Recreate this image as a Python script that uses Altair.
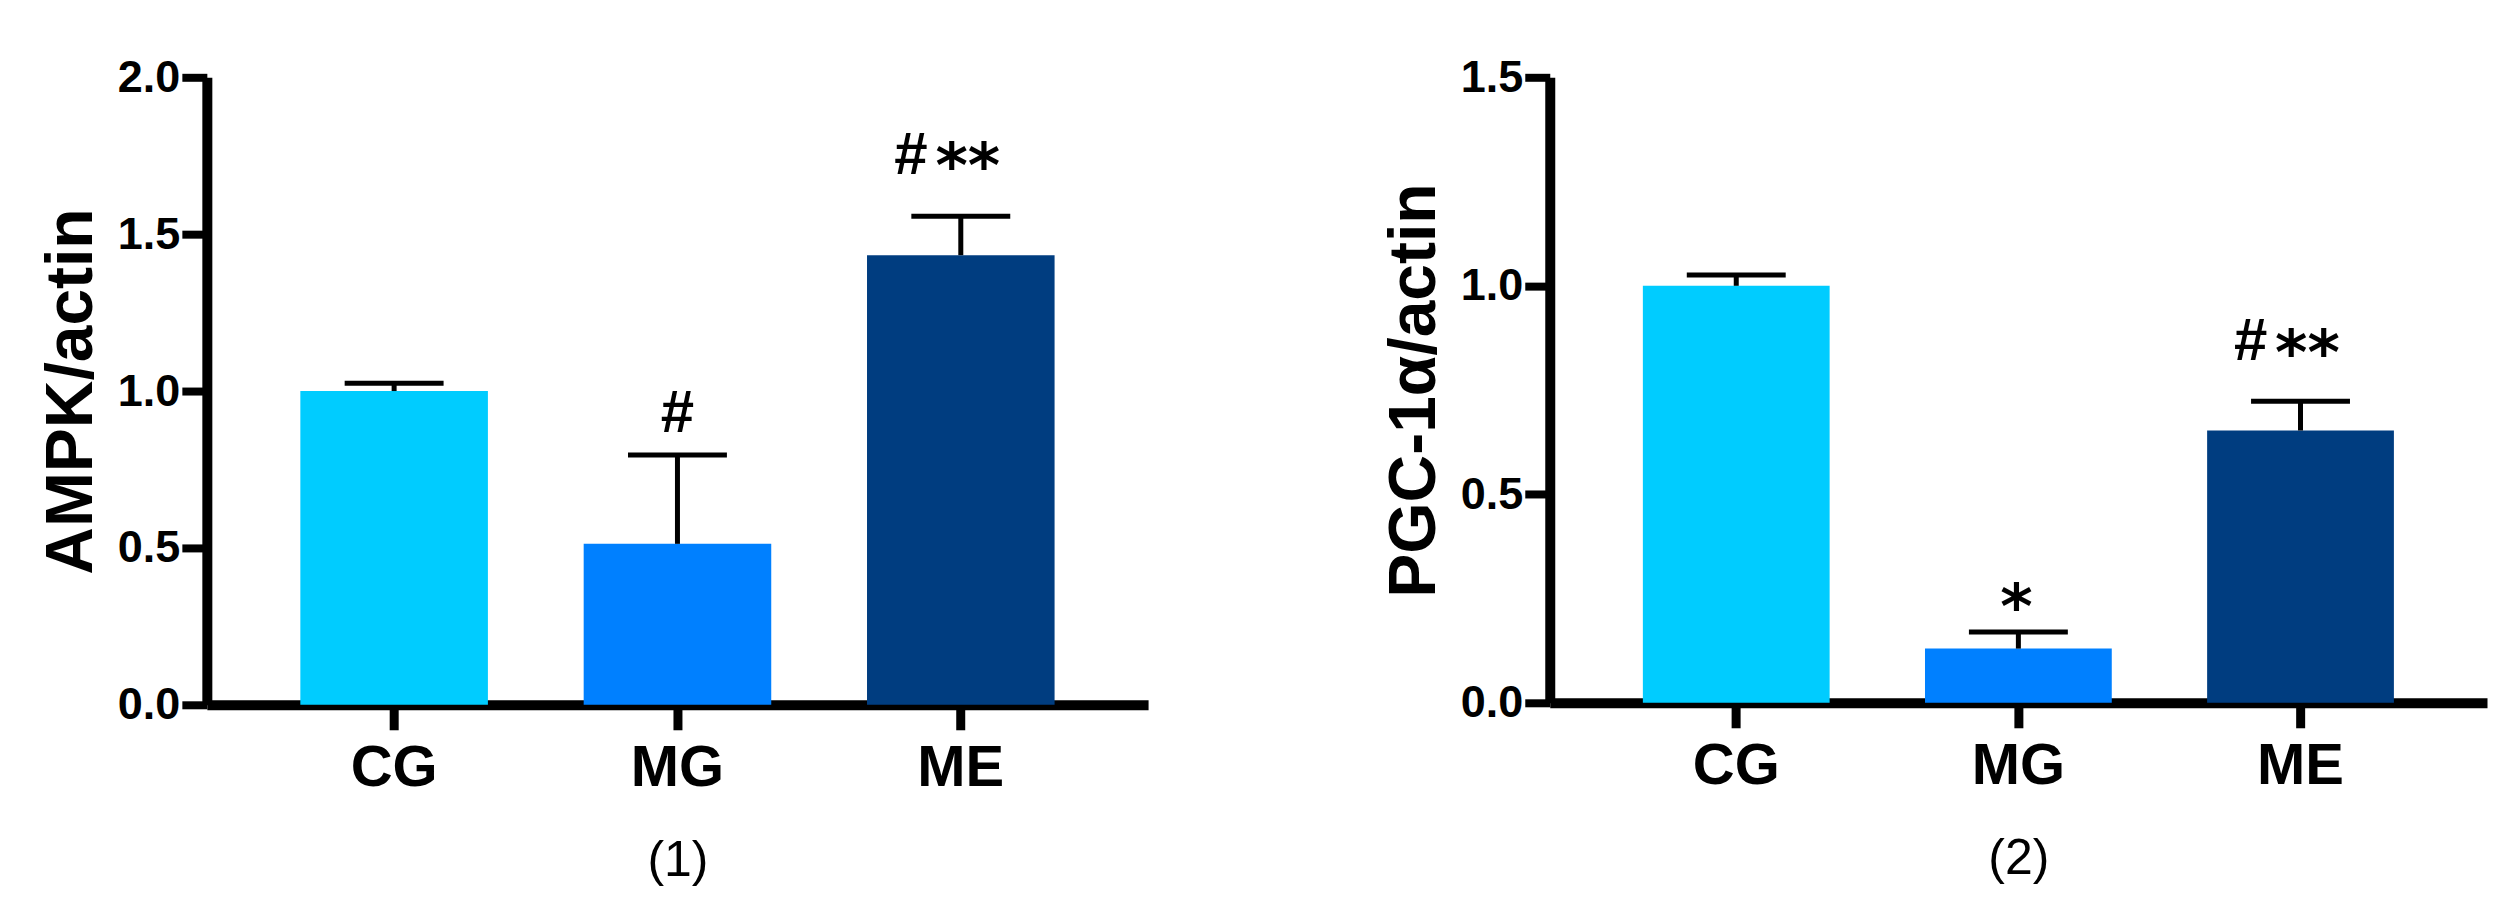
import altair as alt
import pandas as pd

groups = ["CG", "MG", "ME"]
bar_colors = ["#00CCFF", "#0080FF", "#003D80"]

# Panel (1): AMPK/actin
ampk_mean = [1.00, 0.513, 1.433]
ampk_err = [0.025, 0.283, 0.124]
ampk_hash = ["", "#", "#"]
ampk_hash_y = [None, 0.869, 1.691]
ampk_star = ["", "", "**"]
ampk_star_y = [None, None, 1.752]
ampk_ticks = [0.0, 0.5, 1.0, 1.5, 2.0]

# Panel (2): PGC-1α/actin
pgc_mean = [1.00, 0.13, 0.653]
pgc_err = [0.026, 0.04, 0.07]
pgc_hash = ["", "", "#"]
pgc_hash_y = [None, None, 0.822]
pgc_star = ["", "*", "**"]
pgc_star_y = [None, 0.267, 0.865]
pgc_ticks = [0.0, 0.5, 1.0, 1.5]

FONT = "Liberation Sans"


def panel(mean, err, hsh, hsh_y, star, star_y, ymax, yticks, ytitle, caption, w, h):
    df = pd.DataFrame({
        "group": groups,
        "mean": mean,
        "upper": [m + e for m, e in zip(mean, err)],
        "hash": hsh,
        "hash_y": hsh_y,
        "star": star,
        "star_y": star_y,
    })
    xaxis = alt.Axis(
        title=caption, labelAngle=0, grid=False,
        domainColor="black", domainWidth=10,
        tickColor="black", tickWidth=9, tickSize=25,
        labelFont=FONT, labelFontSize=58, labelFontWeight="bold", labelColor="black",
        labelPadding=10,
        titleFont=FONT, titleFontSize=50, titleFontWeight="normal", titleColor="black",
        titlePadding=38,
    )
    yaxis = alt.Axis(
        title=ytitle, values=yticks, format=".1f", grid=False,
        domainColor="black", domainWidth=10,
        tickColor="black", tickWidth=8, tickSize=25,
        labelFont=FONT, labelFontSize=45, labelFontWeight="bold", labelColor="black",
        labelPadding=2, labelFlush=False, labelOverlap=False,
        titleFont=FONT, titleFontSize=66, titleFontWeight="bold", titleColor="black",
        titlePadding=12,
    )
    xs = alt.Scale(paddingInner=0.338, paddingOuter=0.33)
    ys = alt.Scale(domain=[0, ymax], nice=False, zero=True)

    def X():
        return alt.X("group:N", sort=groups, scale=xs, axis=xaxis)

    def Y(field):
        return alt.Y(field, type="quantitative", scale=ys, axis=yaxis)

    base = alt.Chart(df)
    bars = base.mark_bar().encode(
        x=X(), y=Y("mean"),
        color=alt.Color("group:N", scale=alt.Scale(domain=groups, range=bar_colors), legend=None),
    )
    stem = base.mark_rule(strokeWidth=5, color="black").encode(
        x=X(), y=Y("mean"), y2="upper:Q"
    )
    cap = base.mark_tick(orient="horizontal", size=99, thickness=5, color="black", opacity=1).encode(
        x=X(), y=Y("upper")
    )
    hash_alone = base.transform_filter("datum.hash != '' && datum.star == ''").mark_text(
        font=FONT, fontSize=60, fontWeight="bold", color="black", align="center", baseline="alphabetic"
    ).encode(x=X(), y=Y("hash_y"), text="hash:N")
    hash_pair = base.transform_filter("datum.hash != '' && datum.star != ''").mark_text(
        font=FONT, fontSize=60, fontWeight="bold", color="black", align="center", baseline="alphabetic", dx=-50
    ).encode(x=X(), y=Y("hash_y"), text="hash:N")
    star_double = base.transform_filter("datum.star == '**'").mark_text(
        font="DejaVu Sans", fontSize=62, fontWeight="bold", color="black", align="center", baseline="middle",
        dx=7, dy=13
    ).encode(x=X(), y=Y("star_y"), text="star:N")
    star_single = base.transform_filter("datum.star == '*'").mark_text(
        font="DejaVu Sans", fontSize=62, fontWeight="bold", color="black", align="center", baseline="middle",
        dx=-2, dy=18
    ).encode(x=X(), y=Y("star_y"), text="star:N")

    return alt.layer(bars, stem, cap, hash_alone, hash_pair, star_double, star_single).properties(
        width=w, height=h
    )


p1 = panel(ampk_mean, ampk_err, ampk_hash, ampk_hash_y, ampk_star, ampk_star_y,
           2.0, ampk_ticks, "AMPK/actin", "(1)", 942, 628)
p2 = panel(pgc_mean, pgc_err, pgc_hash, pgc_hash_y, pgc_star, pgc_star_y,
           1.5, pgc_ticks, "PGC-1α/actin", "(2)", 938, 626)

chart = alt.hconcat(p1, p2, spacing=233).properties(
    padding={"left": 30, "top": 47, "right": 5, "bottom": 5},
    background="white",
).configure_view(stroke=None)

chart.save("out.html", embed_options={"renderer": "svg", "actions": False})
